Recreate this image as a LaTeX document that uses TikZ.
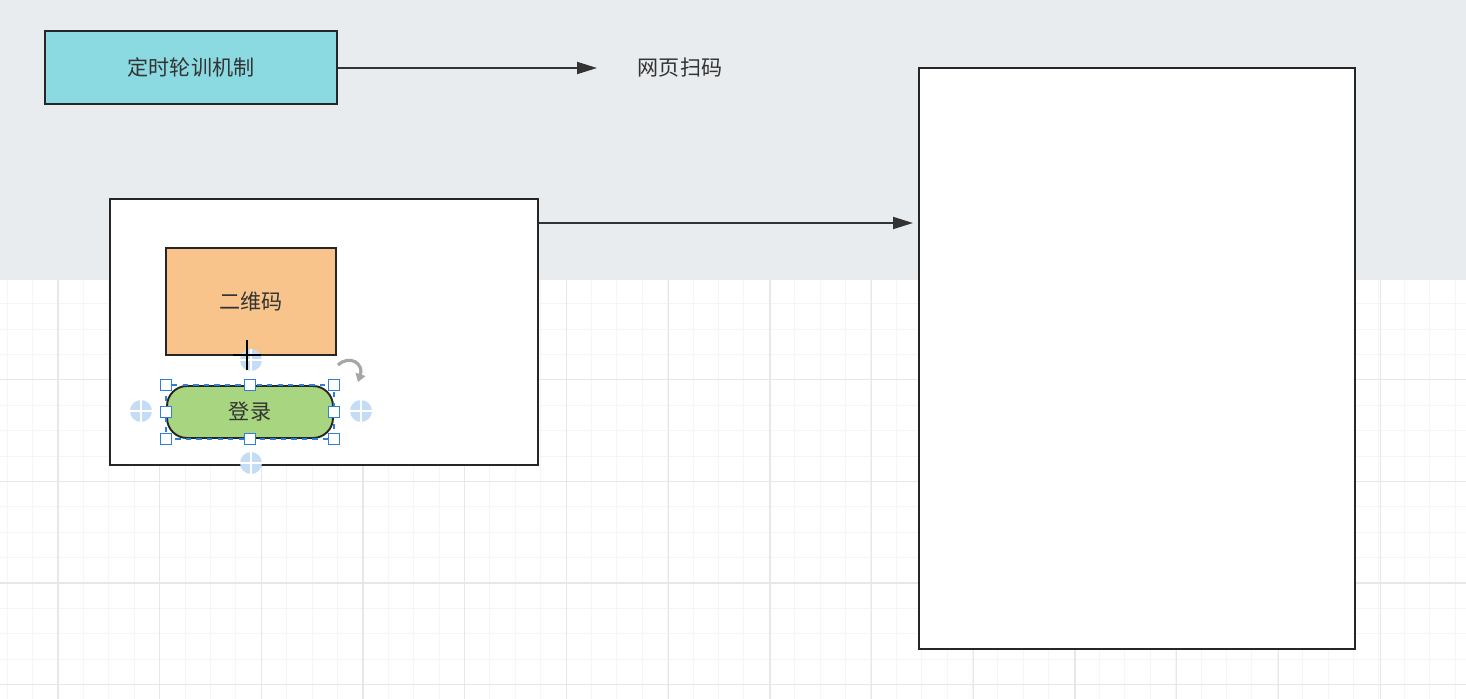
\documentclass[tikz,border=0pt]{standalone}
\usepackage{fontspec}
\newfontfamily\cjk{Noto Sans CJK SC}
\usepackage{tikz}
\usetikzlibrary{positioning, arrows.meta, calc}

\definecolor{canvasgray}{RGB}{233,236,238}
\definecolor{gridminor}{RGB}{245,245,245}
\definecolor{gridmajor}{RGB}{231,231,231}
\definecolor{timercyan}{RGB}{139,217,225}
\definecolor{qrorange}{RGB}{248,196,140}
\definecolor{logingreen}{RGB}{168,213,128}
\definecolor{selblue}{RGB}{47,127,216}
\definecolor{addblue}{RGB}{197,220,246}

\begin{document}
\begin{tikzpicture}[x=0.02cm, y=-0.02cm,
			box/.style={rectangle, draw=black!85, line width=1.1pt, inner sep=0pt, font=\cjk\fontsize{12}{14}\selectfont, text=black!80},
			label/.style={font=\cjk\fontsize{12}{14}\selectfont, text=black!80},
			flow/.style={-{Triangle[length=0.4cm, width=0.24cm]}, line width=1.1pt, draw=black!80},
			handle/.style={rectangle, draw=selblue, fill=white, line width=0.7pt, minimum size=0.23cm, inner sep=0pt},
			addpt/.style={circle, fill=addblue, minimum size=0.44cm, inner sep=0pt,
				path picture={\draw[white, line width=1.3pt]
					(path picture bounding box.north) -- (path picture bounding box.south)
					(path picture bounding box.west) -- (path picture bounding box.east);}}
			]
			\useasboundingbox (0,0) rectangle (1466,699);
			
			% Canvas: grey band on top, grid paper below
			\fill[white] (0,0) rectangle (1466,699);
			\foreach \i in {0,...,57}
				\draw[gridminor, line width=0.5pt] (7.2+25.4*\i,280) -- (7.2+25.4*\i,699);
			\foreach \k in {-4,...,11}
				\draw[gridminor, line width=0.5pt] (0,583-25.4*\k) -- (1466,583-25.4*\k);
			\foreach \i in {0,...,14}
				\draw[gridmajor, line width=0.7pt] (58+101.7*\i,280) -- (58+101.7*\i,699);
			\foreach \k in {0,...,3}
				\draw[gridmajor, line width=0.7pt] (0,684.7-101.7*\k) -- (1466,684.7-101.7*\k);
			\fill[canvasgray] (0,0) rectangle (1466,280);
			
			% Top row
			\node[box, fill=timercyan, minimum width=5.84cm, minimum height=1.46cm] (timer) at (191,67.5) {定时轮训机制};
			\node[label] (scan) at (680,68) {网页扫码};
			\coordinate (scanend) at (597,68);
			\draw[flow] (timer.east |- scanend) -- (scanend);
			
			% Phone page and the login frame
			\node[box, fill=white, minimum width=8.72cm, minimum height=11.62cm] (page) at (1137,358.5) {};
			\node[box, fill=white, minimum width=8.56cm, minimum height=5.32cm] (frame) at (324,332) {};
			\coordinate (pagein) at (913,223);
			\draw[flow] (frame.east |- pagein) -- (pagein);
			
			\node[box, fill=qrorange, minimum width=3.4cm, minimum height=2.14cm] (qrcode) at (251,301.5) {二维码};
			\node[box, fill=logingreen, rounded corners=0.4cm, minimum width=3.32cm, minimum height=1.04cm] (login) at (250,412) {登录};
			
			% Editor selection on the login button
			\draw[selblue, dashed, line width=0.9pt] (login.north west) rectangle (login.south east);
			\foreach \p in {north west, north, north east, west, east, south west, south, south east}
				\node[handle] at (login.\p) {};
			\node[addpt] (addl) at (141,411) {};
			\node[addpt] (addr) at (361,411) {};
			\node[addpt] (addb) at (251,463) {};
			\node[addpt] (addt) at (251,360) {};
			\draw[gray!70, line width=1.8pt, -{Triangle[length=0.16cm, width=0.2cm]}] (338,365) .. controls (350,354) and (364,364) .. (358,382);
			
			% Cursor
			\draw[black, line width=1.4pt] (247,340) -- (247,370);
			\draw[black, line width=0.9pt] (233,355) -- (261,355);
		\end{tikzpicture}
\end{document}
